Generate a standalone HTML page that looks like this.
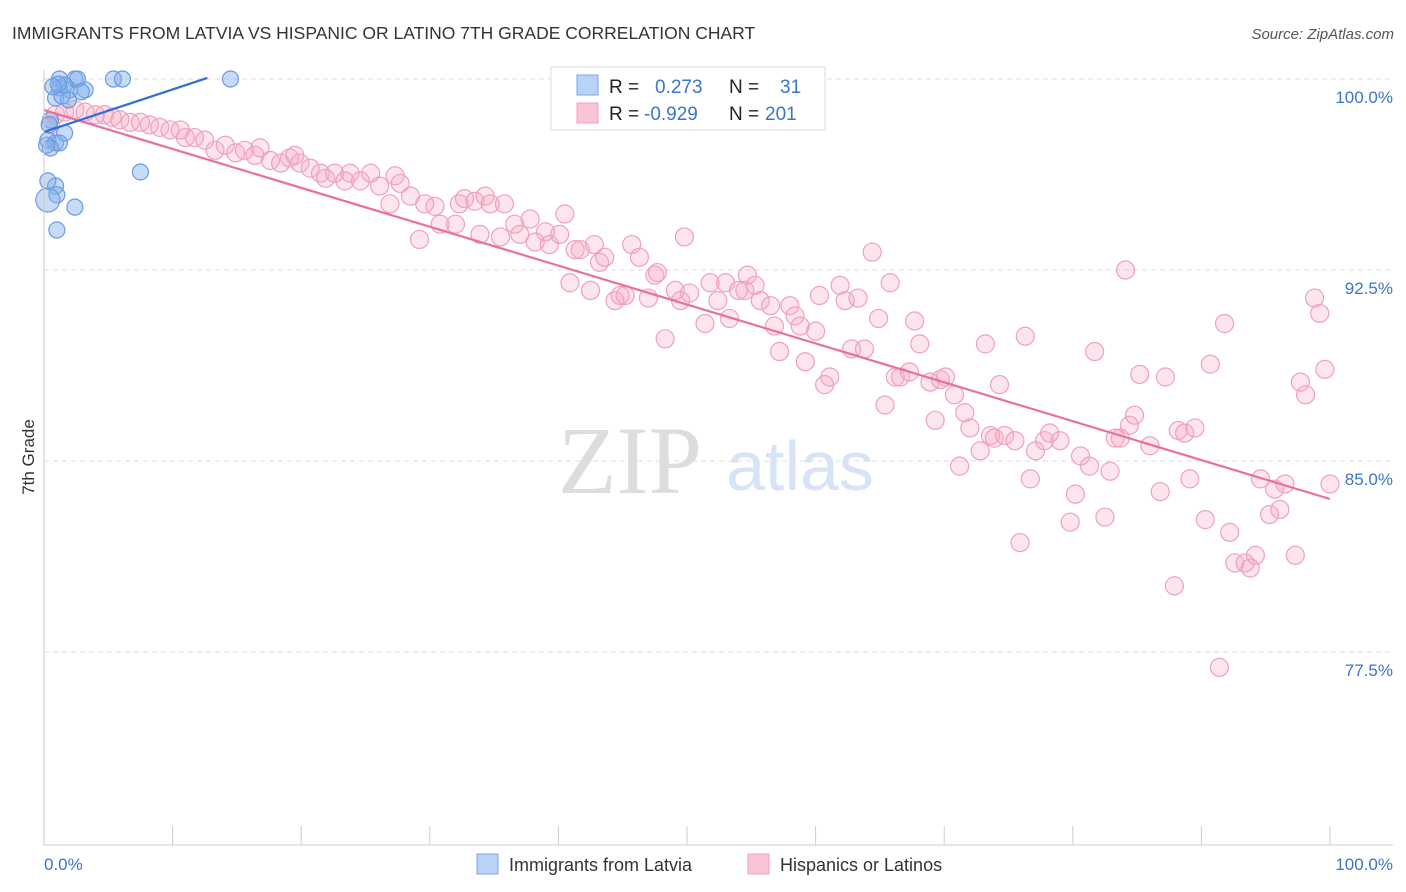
<!DOCTYPE html>
<html><head><meta charset="utf-8"><style>
body{margin:0;background:#fff;font-family:"Liberation Sans",sans-serif}
svg{display:block}
</style></head><body>
<svg id="c" width="1406" height="892" xmlns="http://www.w3.org/2000/svg">
<text x="12" y="39" font-size="17.5" fill="#333">IMMIGRANTS FROM LATVIA VS HISPANIC OR LATINO 7TH GRADE CORRELATION CHART</text>
<text x="1394" y="39" font-size="15" fill="#555" text-anchor="end" font-style="italic">Source: ZipAtlas.com</text>
<g id="grid"></g>
<text x="630" y="493" font-size="96" fill="#ddd" font-family="Liberation Serif" text-anchor="middle">ZIP</text>
<text x="800" y="490" font-size="70" fill="#d6e4f5" text-anchor="middle">atlas</text>
<g id="pts"></g>
<g id="ax"></g>
<text transform="translate(34,457) rotate(-90)" font-size="17" fill="#333" text-anchor="middle">7th Grade</text>
<g>
<rect x="551" y="67" width="274" height="63" fill="#fff" stroke="#ddd"/>
<rect x="577" y="75" width="21" height="20" fill="#b8d3f5" stroke="#7aa6e0"/>
<rect x="577" y="103" width="21" height="20" fill="#f9c5d5" stroke="#f0a0bd"/>
<text x="609" y="93" font-size="19" fill="#222">R = <tspan x="655" fill="#3b73d0">0.273</tspan><tspan x="729" fill="#222">N =</tspan><tspan x="780" fill="#3b73d0">31</tspan></text>
<text x="609" y="120" font-size="19" fill="#222">R = <tspan x="644" fill="#3b73d0">-0.929</tspan><tspan x="729" fill="#222">N =</tspan><tspan x="765" fill="#3b73d0">201</tspan></text>
</g>
<g>
<rect x="477" y="854" width="21" height="20" fill="#b8d3f5" stroke="#7aa6e0"/>
<text x="509" y="871" font-size="18" fill="#333">Immigrants from Latvia</text>
<rect x="748" y="854" width="21" height="20" fill="#f9c5d5" stroke="#f0a0bd"/>
<text x="780" y="871" font-size="18" fill="#333">Hispanics or Latinos</text>
</g>
</svg>
<script>
const yTicks=[100,92.5,85,77.5];
const yTickLabels=["100.0%","92.5%","85.0%","77.5%"];
const blueX=[1.2,2.4,5.4,6.1,14.5,1.2,2.0,3.2,0.9,1.9,0.5,1.6,0.3,0.9,1.2,0.5,0.9,1.0,0.3,2.4,1.0,7.5,1.4,2.6,1.6,0.4,0.2,1.1,2.9,0.7,0.3];
const blueY=[100,100,100,100,100,99.65,99.57,99.57,99.25,99.18,98.39,97.88,97.6,97.49,97.49,97.29,95.8,95.45,95.25,94.97,94.07,96.35,99.33,100,99.76,98.2,97.4,99.8,99.5,99.7,96.0];
const pinkX=[0.5,0.9,1.6,2.4,3.2,4.0,4.7,5.3,5.9,6.7,7.5,8.2,9.0,9.8,10.6,11.0,11.7,12.5,13.3,14.1,14.9,15.6,16.4,16.8,17.6,18.4,19.1,19.5,19.9,20.7,21.5,21.9,22.6,23.4,23.8,24.6,25.4,26.1,26.9,27.3,27.7,28.5,29.2,29.6,30.4,30.8,32.0,32.3,32.7,33.5,33.9,34.3,34.7,35.5,35.8,36.6,37.0,37.8,38.2,39.0,39.3,40.1,40.5,40.9,41.3,41.7,42.5,42.8,43.2,43.6,44.4,44.8,45.2,45.7,46.3,47.0,47.5,47.7,48.3,49.1,49.5,49.8,50.2,51.4,51.8,52.4,53.0,53.3,54.0,54.5,54.7,55.3,55.7,56.5,56.8,57.2,58.0,58.4,58.8,59.2,60.0,60.3,60.7,61.1,61.9,62.3,62.8,63.3,63.8,64.4,64.9,65.4,65.8,66.2,66.6,67.3,67.7,68.1,68.9,69.3,69.7,70.1,70.8,71.2,71.6,72.0,72.8,73.2,73.6,73.9,74.3,74.7,75.5,75.9,76.3,76.7,77.1,77.8,78.2,79.0,79.8,80.2,80.6,81.3,81.7,82.5,82.9,83.3,83.7,84.1,84.4,84.8,85.2,86.0,86.8,87.2,87.9,88.2,88.7,89.1,89.5,90.3,90.7,91.4,91.8,92.2,92.6,93.4,93.8,94.2,94.6,95.3,95.7,96.1,96.5,97.3,97.7,98.1,98.8,99.2,99.6,100.0];
const pinkY=[98.2,98.6,98.7,98.8,98.7,98.6,98.6,98.5,98.4,98.3,98.3,98.2,98.1,98.0,98.0,97.7,97.7,97.6,97.2,97.4,97.1,97.2,97.0,97.3,96.8,96.7,96.9,97.0,96.7,96.5,96.3,96.1,96.3,96.0,96.3,96.0,96.3,95.8,95.1,96.2,95.9,95.4,93.7,95.1,95.0,94.3,94.3,95.1,95.3,95.2,93.9,95.4,95.1,93.8,95.1,94.3,93.9,94.5,93.6,94.0,93.5,93.9,94.7,92.0,93.3,93.3,91.7,93.5,92.8,93.0,91.3,91.5,91.5,93.5,93.0,91.4,92.3,92.4,89.8,91.7,91.3,93.8,91.6,90.4,92.0,91.3,92.0,90.6,91.7,91.7,92.3,91.9,91.3,91.1,90.3,89.3,91.1,90.7,90.3,88.9,90.1,91.5,88.0,88.3,91.9,91.3,89.4,91.4,89.4,93.2,90.6,87.2,92.0,88.3,88.3,88.5,90.5,89.6,88.1,86.6,88.2,88.3,87.6,84.8,86.9,86.3,85.4,89.6,86.0,85.9,88.0,86.0,85.8,81.8,89.9,84.3,85.4,85.8,86.1,85.8,82.6,83.7,85.2,84.8,89.3,82.8,84.6,85.9,85.9,92.5,86.4,86.8,88.4,85.6,83.8,88.3,80.1,86.2,86.1,84.3,86.3,82.7,88.8,76.9,90.4,82.2,81.0,81.0,80.8,81.3,84.3,82.9,83.9,83.1,84.1,81.3,88.1,87.6,91.4,90.8,88.6,84.1];
const blueLine=[[0,97.92],[12.7,100.04]];
const pinkLine=[[0,98.78],[100,83.51]];
const NS="http://www.w3.org/2000/svg";
const X0=44,X1=1330,YT=79,YPX=25.47;
const sx=v=>X0+(X1-X0)*v/100;
const sy=v=>YT+(100-v)*YPX;
function mk(t,a,p){const e=document.createElementNS(NS,t);for(const k in a)e.setAttribute(k,a[k]);p.appendChild(e);return e;}
const grid=document.getElementById('grid'),ax=document.getElementById('ax'),pts=document.getElementById('pts');
yTicks.forEach((t,i)=>{
 const l=mk('line',{x1:44,x2:1393,y1:sy(t),y2:sy(t),stroke:'#ddd','stroke-dasharray':'5,4'},grid);
 
 
 const tx=mk('text',{x:1393,y:sy(t)+24,'font-size':17,fill:'#3b73d0','text-anchor':'end'},ax);
 tx.textContent=yTickLabels[i];
 
 
});
mk('line',{x1:44,x2:44,y1:70,y2:845,stroke:'#ccc'},ax);
mk('line',{x1:44,x2:1393,y1:845,y2:845,stroke:'#ccc'},ax);
for(let i=0;i<=10;i++){const t=mk('line',{x1:sx(i*10),x2:sx(i*10),y1:826,y2:845,stroke:'#ccc'},ax);
 
 }
const xl0=mk('text',{x:44,y:870,'font-size':17,fill:'#3b73d0'},ax);xl0.textContent='0.0%';


const xl1=mk('text',{x:1393,y:870,'font-size':17,fill:'#3b73d0','text-anchor':'end'},ax);xl1.textContent='100.0%';


pinkX.forEach((x,i)=>{const c=mk('circle',{cx:sx(x),cy:sy(pinkY[i]),r:9,fill:'rgba(246,170,196,0.3)',stroke:'#f0a0bd','stroke-width':1.2},pts);
 
 });
blueX.forEach((x,i)=>{const c=mk('circle',{cx:sx(x),cy:sy(blueY[i]),r:i==18?12:8,fill:'rgba(130,175,235,0.45)',stroke:'#6a9be0','stroke-width':1.2},pts);
 
 });
const pl=mk('line',{x1:sx(pinkLine[0][0]),y1:sy(pinkLine[0][1]),x2:sx(pinkLine[1][0]),y2:sy(pinkLine[1][1]),stroke:'#e8709a','stroke-width':2.2},pts);


const bl=mk('line',{x1:sx(blueLine[0][0]),y1:sy(blueLine[0][1]),x2:sx(blueLine[1][0]),y2:sy(blueLine[1][1]),stroke:'#2f6fd6','stroke-width':2.2},pts);


</script>
</body></html>
